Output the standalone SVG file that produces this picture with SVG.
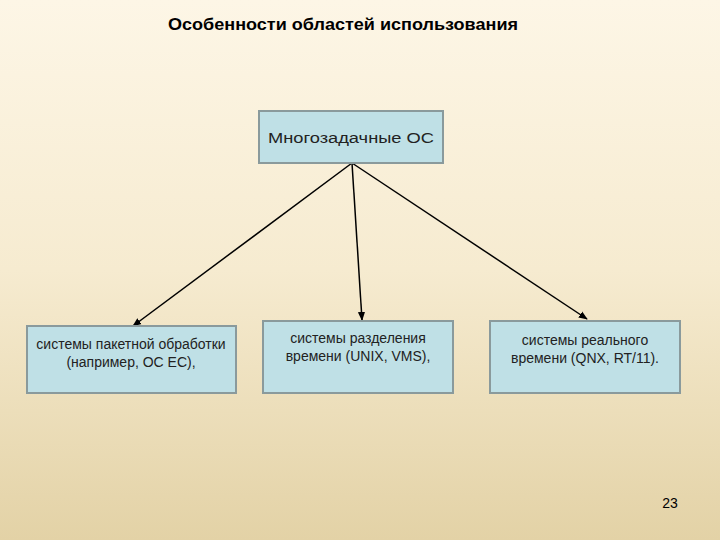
<svg xmlns="http://www.w3.org/2000/svg" width="720" height="540" viewBox="0 0 720 540">
<defs>
<linearGradient id="bg" x1="0" y1="0" x2="0" y2="1"><stop offset="0" stop-color="#fdf6e6"/><stop offset="0.5" stop-color="#f6ebd0"/><stop offset="1" stop-color="#e3d2a6"/></linearGradient>
<marker id="ah" viewBox="0 0 10 10" refX="9" refY="5" markerWidth="6" markerHeight="6" orient="auto"><path d="M0,1 L10,5 L0,9 z" fill="#000"/></marker>
<style>
.box{fill:#bfe0e6;stroke:#8a9a9c;stroke-width:2}
.t{font-family:"Liberation Sans",Arial,sans-serif;font-size:14px;fill:#222;text-anchor:middle}
.c{stroke:#000;stroke-width:1.5;fill:none;marker-end:url(#ah)}
</style>
</defs>
<rect width="720" height="540" fill="url(#bg)"/>
<text x="343" y="30" font-family="Liberation Sans,Arial,sans-serif" font-size="17" font-weight="bold" text-anchor="middle" fill="#000" textLength="350" lengthAdjust="spacingAndGlyphs">Особенности областей использования</text>
<g id="connectors">
<line class="c" x1="352" y1="163" x2="133" y2="326"/>
<line class="c" x1="352" y1="163" x2="362" y2="320"/>
<line class="c" x1="352" y1="163" x2="587" y2="319"/>
</g>
<g id="root"><rect class="box" x="259" y="111" width="184" height="52"/><text class="t" x="351" y="143" font-size="17" textLength="166" lengthAdjust="spacingAndGlyphs">Многозадачные ОС</text></g>
<g id="n1"><rect class="box" x="27" y="326" width="209" height="67"/><text class="t" x="131" y="349">системы пакетной обработки</text><text class="t" x="131" y="367">(например, ОС ЕС),</text></g>
<g id="n2"><rect class="box" x="263" y="321" width="190" height="72"/><text class="t" x="358" y="343">системы разделения</text><text class="t" x="358" y="361">времени (UNIX, VMS),</text></g>
<g id="n3"><rect class="box" x="490" y="321" width="190" height="72"/><text class="t" x="585" y="345">системы реального</text><text class="t" x="585" y="363">времени (QNX, RT/11).</text></g>
<text x="670" y="508" font-family="Liberation Sans,Arial,sans-serif" font-size="14" text-anchor="middle" fill="#000">23</text>
</svg>
